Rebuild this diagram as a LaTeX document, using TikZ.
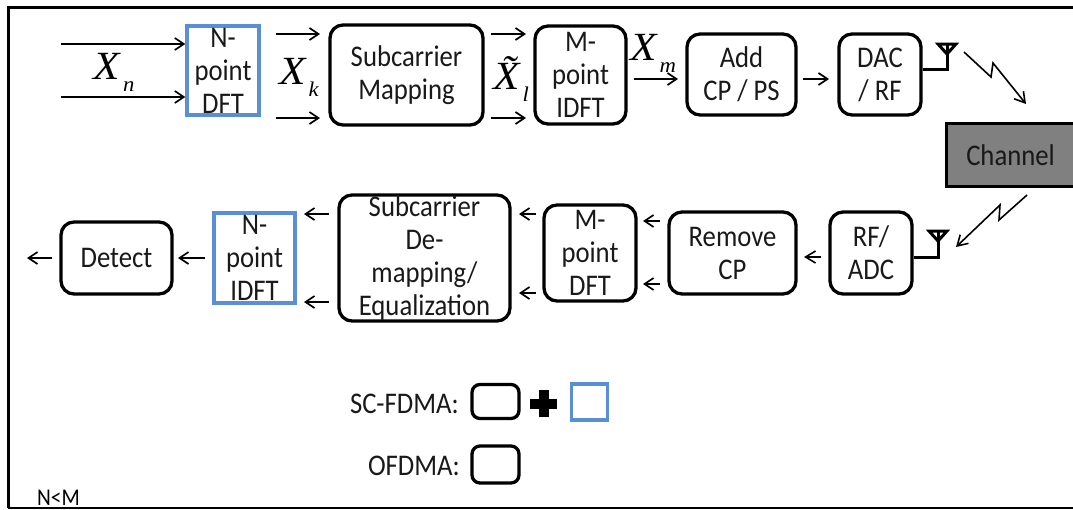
\documentclass[tikz,border=0pt]{standalone}
\usepackage{fontspec}
\setmainfont{Carlito}[FakeStretch=0.89]
\newfontfamily\mathserif{Liberation Serif}[FakeStretch=1.08]
\usetikzlibrary{arrows.meta,calc}
\definecolor{blueline}{HTML}{5B8FD5}
\tikzset{
  base/.style={inner sep=0pt,align=center,font=\fontsize{30}{33}\selectfont,text=black!90},
  rbox/.style={base,draw=black,line width=3.3pt,rounded corners=13pt},
  kbox/.style={rbox,rounded corners=8pt},
  bbox/.style={base,draw=blueline,line width=3.3pt},
  arr/.style={line width=1.9pt,-{Straight Barb[length=9pt,width=12pt,line width=1.7pt]}},
  thin arr/.style={line width=1.6pt,-{Straight Barb[length=10pt,width=12pt,line width=1.6pt]}},
  ant/.style={line width=3pt,line cap=butt},
  lbl/.style={inner sep=0pt,font=\fontsize{30}{30}\selectfont,text=black!90},
  mlabel/.style={inner sep=0pt,text=black,font=\mathserif\itshape\fontsize{40}{40}\selectfont},
}
\newcommand{\lab}[2]{#1\raisebox{-12pt}{\fontsize{21}{21}\selectfont\hspace{3pt}#2}}
\begin{document}
\begin{tikzpicture}[x=1pt,y=-1pt]
\useasboundingbox (0,0) rectangle (1073,509);
% frame
\coordinate (fa) at (1073,7);
\coordinate (fb) at (8,7);
\coordinate (fc) at (8,508);
\coordinate (fd) at (1073,508);
\draw[line width=3pt] (fa) -- (fb) -- (fc);
\draw[line width=2.4pt] (fc) -- (fd);
% top row
\node[bbox,minimum width=72pt,minimum height=89pt] (ndft) at (223,70.5) {N-\\point\\DFT};
\node[rbox,minimum width=153pt,minimum height=100pt] (map) at (406.5,75) {Subcarrier\\Mapping};
\node[rbox,minimum width=91pt,minimum height=98pt] (idft) at (580.5,75) {M-\\point\\IDFT};
\node[rbox,minimum width=109pt,minimum height=81pt] (cp) at (741.5,74.5) {Add\\CP / PS};
\node[rbox,minimum width=82pt,minimum height=81pt] (dac) at (880,74.5) {DAC\\/ RF};
\node[base,draw=black,line width=3pt,fill=black!50,minimum width=129pt,minimum height=63pt] (chan) at (1010.5,155) {Channel};
% bottom row
\node[rbox,minimum width=82pt,minimum height=82pt] (rf) at (871,253) {RF/\\ADC};
\node[rbox,minimum width=127pt,minimum height=82pt] (rm) at (732.5,253) {Remove\\CP};
\node[rbox,minimum width=92pt,minimum height=96pt] (mdft) at (590,253) {M-\\point\\DFT};
\node[rbox,minimum width=171pt,minimum height=126pt] (dem) at (424.5,258) {Subcarrier\\De-\\mapping/\\Equalization};
\node[bbox,minimum width=81pt,minimum height=90pt] (nidft) at (254.5,258) {N-\\point\\IDFT};
\node[rbox,minimum width=111pt,minimum height=72pt] (det) at (116.5,258) {Detect};
% math labels
\node[mlabel] (xn) at (114,72) {\lab{X}{n}};
\node[mlabel] (xk) at (299,77) {\lab{X}{k}};
\node[mlabel] (xl) at (511,79) {\lab{\~X}{l}};
\node[mlabel] (xm) at (653,53) {\lab{X}{m}};
% top arrows
\coordinate (n1) at (61,44);
\coordinate (n2) at (61,97);
\draw[arr] (n1) -- (ndft.west |- n1);
\draw[arr] (n2) -- (ndft.west |- n2);
\coordinate (k1a) at (276,34); \coordinate (k1b) at (320,34);
\coordinate (k2a) at (276,118); \coordinate (k2b) at (320,118);
\draw[arr] (k1a) -- (k1b);
\draw[arr] (k2a) -- (k2b);
\coordinate (l1a) at (491,34); \coordinate (l1b) at (526,34);
\coordinate (l2a) at (491,118); \coordinate (l2b) at (526,118);
\draw[arr] (l1a) -- (l1b);
\draw[arr] (l2a) -- (l2b);
\coordinate (ma) at (634,79); \coordinate (mb) at (678,79);
\draw[arr] (ma) -- (mb);
\coordinate (pa) at (803,79); \coordinate (pb) at (829,79);
\draw[arr] (pa) -- (pb);
% bottom arrows
\coordinate (r1a) at (821,257); \coordinate (r1b) at (804,257);
\draw[thin arr] (r1a) -- (r1b);
\coordinate (r2a) at (660,221); \coordinate (r2b) at (643,221);
\coordinate (r3a) at (660,284); \coordinate (r3b) at (643,284);
\draw[arr] (r2a) -- (r2b);
\draw[arr] (r3a) -- (r3b);
\coordinate (s1a) at (536,214); \coordinate (s1b) at (519,214);
\coordinate (s2a) at (536,293); \coordinate (s2b) at (519,293);
\draw[arr] (s1a) -- (s1b);
\draw[arr] (s2a) -- (s2b);
\coordinate (t1a) at (329,214); \coordinate (t1b) at (304,214);
\coordinate (t2a) at (329,302); \coordinate (t2b) at (304,302);
\draw[arr] (t1a) -- (t1b);
\draw[arr] (t2a) -- (t2b);
\coordinate (d1a) at (205,258); \coordinate (d1b) at (178,258);
\coordinate (d2a) at (52,258); \coordinate (d2b) at (27,258);
\draw[arr] (d1a) -- (d1b);
\draw[arr] (d2a) -- (d2b);
% antennas
\coordinate (a1) at (947,69);
\draw[ant] (dac.east |- a1) -- (a1) -- (947,44);
\draw[line width=3pt,line join=miter] (938,44) -- (956,44) -- (947,54) -- cycle;
\coordinate (a2) at (938,257);
\draw[ant] (rf.east |- a2) -- (a2) -- (938,231);
\draw[line width=3pt,line join=miter] (929,231) -- (947,231) -- (938,241) -- cycle;
% lightning
\coordinate (z1) at (964,52); \coordinate (z2) at (991,77); \coordinate (z3) at (993,63); \coordinate (z4) at (1026,104);
\draw[thin arr,line join=miter] (z1) -- (z2) -- (z3) -- (z4);
\coordinate (y1) at (1027,195); \coordinate (y2) at (999,220); \coordinate (y3) at (1000,205); \coordinate (y4) at (956,247);
\draw[thin arr,line join=miter] (y1) -- (y2) -- (y3) -- (y4);
% legend
\node[lbl,anchor=east] (sc) at (459,404) {SC-FDMA:};
\node[kbox,minimum width=47pt,minimum height=34pt] (k1) at (495.5,401.5) {};
\fill (538.5,390) rectangle (549,417);
\fill (530,398.5) rectangle (557,409);
\node[bbox,minimum width=36pt,minimum height=36pt] (k2) at (589.5,402) {};
\node[lbl,anchor=east] (of) at (460,466) {OFDMA:};
\node[kbox,minimum width=47pt,minimum height=37pt] (k3) at (495.5,464.5) {};
\node[inner sep=0pt,anchor=base west,font=\fontsize{24}{24}\selectfont] (nm) at (37,505) {N<M};
\end{tikzpicture}
\end{document}
